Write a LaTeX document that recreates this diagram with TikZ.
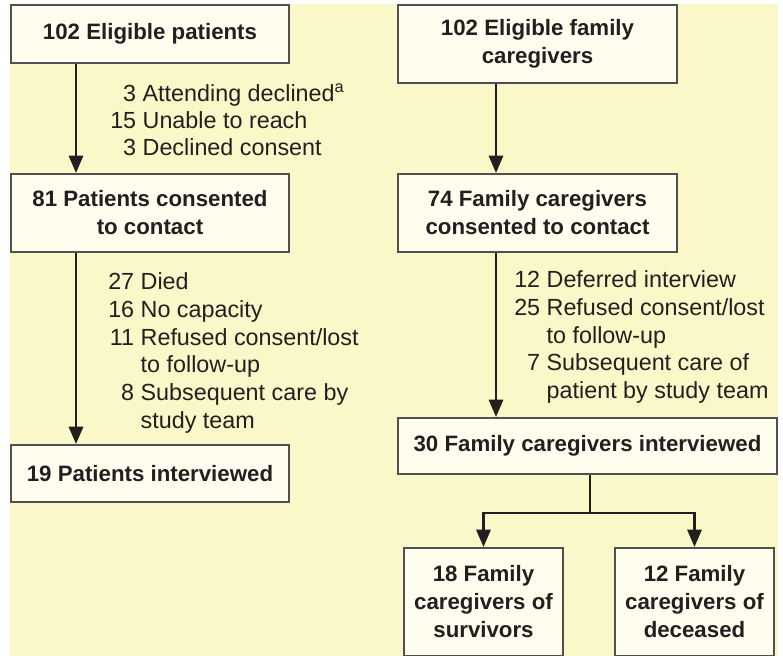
\documentclass[tikz,border=0pt]{standalone}
\usepackage{fontspec}
\setmainfont{Liberation Sans}
\usetikzlibrary{arrows.meta,calc}
\definecolor{bg}{RGB}{250,247,200}
\definecolor{boxfill}{RGB}{255,253,238}
\definecolor{boxline}{RGB}{80,80,80}
\definecolor{ink}{RGB}{35,31,32}
\begin{document}
\begin{tikzpicture}[x=0.75pt,y=-0.75pt,
  box/.style={draw=boxline, fill=boxfill, line width=1.4pt, inner sep=0pt, align=center,
    font=\fontsize{16.7}{21}\selectfont\bfseries, text=ink},
  arr/.style={draw=ink, line width=2.2pt, -{Triangle[length=13pt,width=10.5pt]}},
  ln/.style={draw=ink, line width=2.2pt},
  lbl/.style={anchor=north west, inner sep=0pt, text=ink, font=\fontsize{17.5}{20.8}\selectfont}]
\useasboundingbox (0,0) rectangle (783,656);
\fill[white] (0,0) rectangle (783,656);
\fill[bg] (10,4) rectangle (778,656);

% left column
\node[box, minimum width=208.5pt, minimum height=43.5pt] (b1) at (150,34) {102 Eligible patients};
\node[box, minimum width=208.5pt, minimum height=58.5pt] (b2) at (150,213) {81 Patients consented\\to contact};
\node[box, minimum width=208.5pt, minimum height=42.75pt] (b3) at (150,473.5) {19 Patients interviewed};

% right column
\node[box, minimum width=209.25pt, minimum height=58.5pt] (r1) at (537.5,44) {102 Eligible family\\caregivers};
\node[box, minimum width=209.25pt, minimum height=58.5pt] (r2) at (537.5,213) {74 Family caregivers\\consented to contact};
\node[box, minimum width=284.25pt, minimum height=42pt] (r3) at (587.5,446) {30 Family caregivers interviewed};
\node[box, minimum width=119.25pt, minimum height=81pt] (r4) at (483.5,602) {18 Family\\caregivers of\\survivors};
\node[box, minimum width=119.25pt, minimum height=81pt] (r5) at (694.5,602) {12 Family\\caregivers of\\deceased};

% connectors
\coordinate (lx) at (76,0);
\coordinate (rx) at (496,0);
\coordinate (br) at (590,513);
\draw[arr] (b1.south -| lx) -- (b2.north -| lx);
\draw[arr] (b2.south -| lx) -- (b3.north -| lx);
\draw[arr] (r1.south -| rx) -- (r2.north -| rx);
\draw[arr] (r2.south -| rx) -- (r3.north -| rx);
\draw[ln] (r3.south -| br) -- (br);
\draw[arr] (br) -| (r4.north);
\draw[arr] (br) -| (r5.north);

% labels
\node[lbl, font=\fontsize{17.5}{20.25}\selectfont] (l1) at (110,82) {\begin{tabular}{@{}r@{\ }l@{}}
3&Attending declined\textsuperscript{a}\\
15&Unable to reach\\
3&Declined consent
\end{tabular}};
\node[lbl] (l2) at (108,270) {\begin{tabular}{@{}r@{\ }l@{}}
27&Died\\
16&No capacity\\
11&Refused consent/lost\\
&to follow-up\\
8&Subsequent care by\\
&study team
\end{tabular}};
\node[lbl] (l3) at (514,268) {\begin{tabular}{@{}r@{\ }l@{}}
12&Deferred interview\\
25&Refused consent/lost\\
&to follow-up\\
7&Subsequent care of\\
&patient by study team
\end{tabular}};
\end{tikzpicture}
\end{document}
